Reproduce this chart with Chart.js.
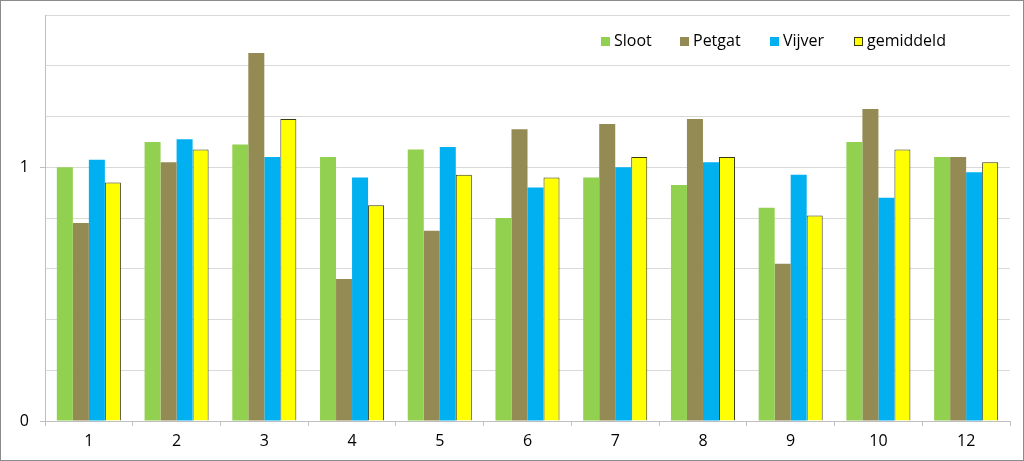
<!DOCTYPE html>
<html>
<head>
<meta charset="utf-8">
<script src="https://cdn.jsdelivr.net/npm/chart.js@4"></script>
<style>
    html, body { margin: 0; padding: 0; background: #fff; }
    #wrap { width: 1024px; height: 461px; box-sizing: border-box; border: 1px solid #8c8c8c; }
    canvas { display: block; }
</style>
</head>
<body>
<div id="wrap"><canvas id="chart" width="1022" height="459"></canvas></div>
<script>
const categories = ['1', '2', '3', '4', '5', '6', '7', '8', '9', '10', '12'];
const sloot     = [1.00, 1.10, 1.09, 1.04, 1.07, 0.80, 0.96, 0.93, 0.84, 1.10, 1.04];
const petgat    = [0.78, 1.02, 1.45, 0.56, 0.75, 1.15, 1.17, 1.19, 0.62, 1.23, 1.04];
const vijver    = [1.03, 1.11, 1.04, 0.96, 1.08, 0.92, 1.00, 1.02, 0.97, 0.88, 0.98];
const gemiddeld = [0.94, 1.07, 1.19, 0.85, 0.97, 0.96, 1.04, 1.04, 0.81, 1.07, 1.02];
const shownTicks = [0, 1];

const FONT = "'Open Sans', 'Noto Sans', sans-serif";

// legend drawn inside the plot area, top right
const innerLegend = {
    id: 'innerLegend',
    afterDraw(chart) {
        const ctx = chart.ctx;
        const xs = [600, 679, 769, 853];
        const y = 40;
        ctx.save();
        ctx.font = '16px ' + FONT;
        ctx.textBaseline = 'middle';
        chart.data.datasets.forEach((ds, i) => {
            const x = xs[i];
            ctx.fillStyle = ds.backgroundColor;
            ctx.fillRect(x, y - 4, 9, 9);
            if (ds.borderWidth) {
                ctx.strokeStyle = ds.borderColor;
                ctx.lineWidth = 1;
                ctx.strokeRect(x + 0.5, y - 3.5, 8, 8);
            }
            ctx.fillStyle = '#000';
            ctx.fillText(ds.label, x + 13, y);
        });
        ctx.restore();
    }
};

new Chart(document.getElementById('chart'), {
    type: 'bar',
    data: {
        labels: categories,
        datasets: [
            { label: 'Sloot', data: sloot, backgroundColor: '#92D050', borderWidth: 0 },
            { label: 'Petgat', data: petgat, backgroundColor: '#948A54', borderWidth: 0 },
            { label: 'Vijver', data: vijver, backgroundColor: '#00B0F0', borderWidth: 0 },
            { label: 'gemiddeld', data: gemiddeld, backgroundColor: '#FFFF00', borderColor: '#3a3a10', borderWidth: 1 }
        ]
    },
    options: {
        responsive: false,
        animation: false,
        layout: { padding: { left: 0, top: 14, right: 13, bottom: 0 } },
        datasets: {
            bar: { categoryPercentage: 0.73, barPercentage: 1.0 }
        },
        plugins: {
            legend: { display: false },
            tooltip: { enabled: false }
        },
        scales: {
            x: {
                grid: {
                    offset: true,
                    drawOnChartArea: false,
                    drawTicks: true,
                    tickLength: 5,
                    color: '#bfbfbf'
                },
                border: { color: '#bfbfbf' },
                ticks: { color: '#000', font: { family: FONT, size: 16 }, padding: 6, maxRotation: 0 },
                afterFit(scale) { scale.height = 39; }
            },
            y: {
                min: 0,
                max: 1.6,
                grid: {
                    color: '#d9d9d9',
                    tickLength: 5,
                    tickColor: ctx => shownTicks.includes(Math.round(ctx.tick.value * 10) / 10) ? '#bfbfbf' : 'rgba(0,0,0,0)'
                },
                border: { color: '#bfbfbf' },
                ticks: {
                    stepSize: 0.2,
                    color: '#000',
                    font: { family: FONT, size: 16 },
                    padding: 11,
                    callback: value => shownTicks.includes(Math.round(value * 10) / 10) ? String(Math.round(value)) : ''
                },
                afterFit(scale) {
                    scale.width = 44;
                    scale.paddingTop = 0;
                    scale.paddingBottom = 0;
                }
            }
        }
    },
    plugins: [innerLegend]
});
</script>
</body>
</html>
